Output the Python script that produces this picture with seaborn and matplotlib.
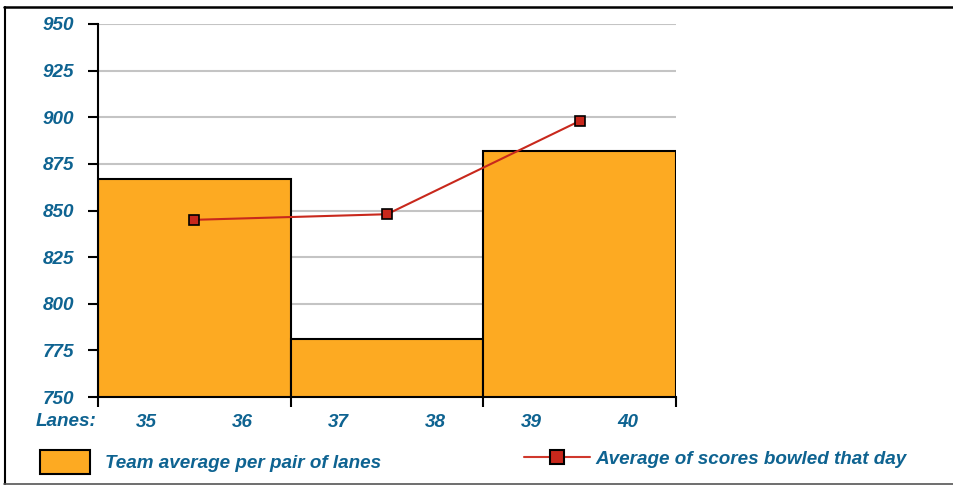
import matplotlib
matplotlib.use("Agg")
import matplotlib.pyplot as plt
import seaborn as sns
import pandas as pd
from matplotlib.patches import Patch
from matplotlib.lines import Line2D

# ---- data ----
lane_labels = ["35", "36", "37", "38", "39", "40"]
pair_centers = [1, 3, 5]
team_average = [867, 781, 882]
day_average = [845, 848, 898]
y_ticks = [750, 775, 800, 825, 850, 875, 900, 925, 950]
bar_label = "Team average per pair of lanes"
line_label = "Average of scores bowled that day"

TXT = "#0e6391"
ORANGE = "#fdaa22"
RED = "#c8281c"
FS = 13.6

sns.set_theme(style="white")
plt.rcParams["font.family"] = ["Liberation Sans", "DejaVu Sans"]

fig = plt.figure(figsize=(9.54, 4.87), dpi=100)
ax = fig.add_axes([98/954, 1-397/487, (676-98)/954, (397-24)/487])

df_bar = pd.DataFrame({"pos": pair_centers, "val": team_average})
sns.barplot(data=df_bar, x="pos", y="val", native_scale=True, width=1.0,
            color=ORANGE, saturation=1, edgecolor="black", linewidth=1.5, ax=ax, zorder=2)
df_line = pd.DataFrame({"pos": pair_centers, "val": day_average})
sns.lineplot(data=df_line, x="pos", y="val", color=RED, linewidth=1.5, marker="s",
             markersize=7, markerfacecolor=RED, markeredgecolor="black",
             markeredgewidth=1.2, ax=ax, zorder=3)

ax.set_xlim(0, 6)
ax.set_ylim(750, 950)
ax.set_yticks(y_ticks)
ax.set_yticklabels([str(v) for v in y_ticks], fontsize=FS, fontweight="bold",
                   fontstyle="italic", color=TXT)
ax.yaxis.grid(True, color="#c4c4c4", linewidth=1.5, zorder=0)
ax.set_axisbelow(True)
ax.tick_params(axis="y", which="major", left=True, length=7, width=1.5, color="black", pad=10)

ax.set_xticks([0.5, 1.5, 2.5, 3.5, 4.5, 5.5])
ax.set_xticklabels(lane_labels, fontsize=FS, fontweight="bold", fontstyle="italic", color=TXT)
ax.tick_params(axis="x", which="major", length=0, pad=12)
ax.set_xticks([0, 2, 4, 6], minor=True)
ax.tick_params(axis="x", which="minor", bottom=True, length=7, width=1.5, color="black")
ax.set_xlabel("")
ax.set_ylabel("")

for s in ["top", "right"]:
    ax.spines[s].set_visible(False)
for s in ["left", "bottom"]:
    ax.spines[s].set_color("black")
    ax.spines[s].set_linewidth(1.5)

fig.text(96/954, 1-421/487, "Lanes:", ha="right", va="center", fontsize=FS,
         fontweight="bold", fontstyle="italic", color=TXT)

# legends
h1 = Patch(facecolor=ORANGE, edgecolor="black", linewidth=1.5, label=bar_label)
leg1 = fig.legend(handles=[h1], loc="center left", bbox_to_anchor=(40/954, 1-462/487),
                  frameon=False, borderpad=0, borderaxespad=0, handlelength=2.65,
                  handleheight=1.5, handletextpad=0.8,
                  prop=dict(size=FS, weight="bold", style="italic"))
for t in leg1.get_texts():
    t.set_color(TXT)
h2 = Line2D([], [], color="#d0382c", linewidth=1.5, marker="s", markersize=10,
            markerfacecolor=RED, markeredgecolor="black", markeredgewidth=1.5, label=line_label)
leg2 = fig.legend(handles=[h2], loc="center left", bbox_to_anchor=(524/954, 1-459/487),
                  frameon=False, borderpad=0, borderaxespad=0, handlelength=3.5,
                  handletextpad=0.3, prop=dict(size=FS, weight="bold", style="italic"))
for t in leg2.get_texts():
    t.set_color(TXT)

# figure border: left, top (dark), bottom (grey), no right edge
fig.add_artist(Line2D([5/954, 5/954], [1-7/487, 1-484/487], transform=fig.transFigure,
                      color="black", linewidth=1.5))
fig.add_artist(Line2D([4/954, 1.0], [1-7/487, 1-7/487], transform=fig.transFigure,
                      color="black", linewidth=1.8))
fig.add_artist(Line2D([4/954, 1.0], [1-484/487, 1-484/487], transform=fig.transFigure,
                      color="#555555", linewidth=1.2))

fig.savefig("out.png", dpi=100)
